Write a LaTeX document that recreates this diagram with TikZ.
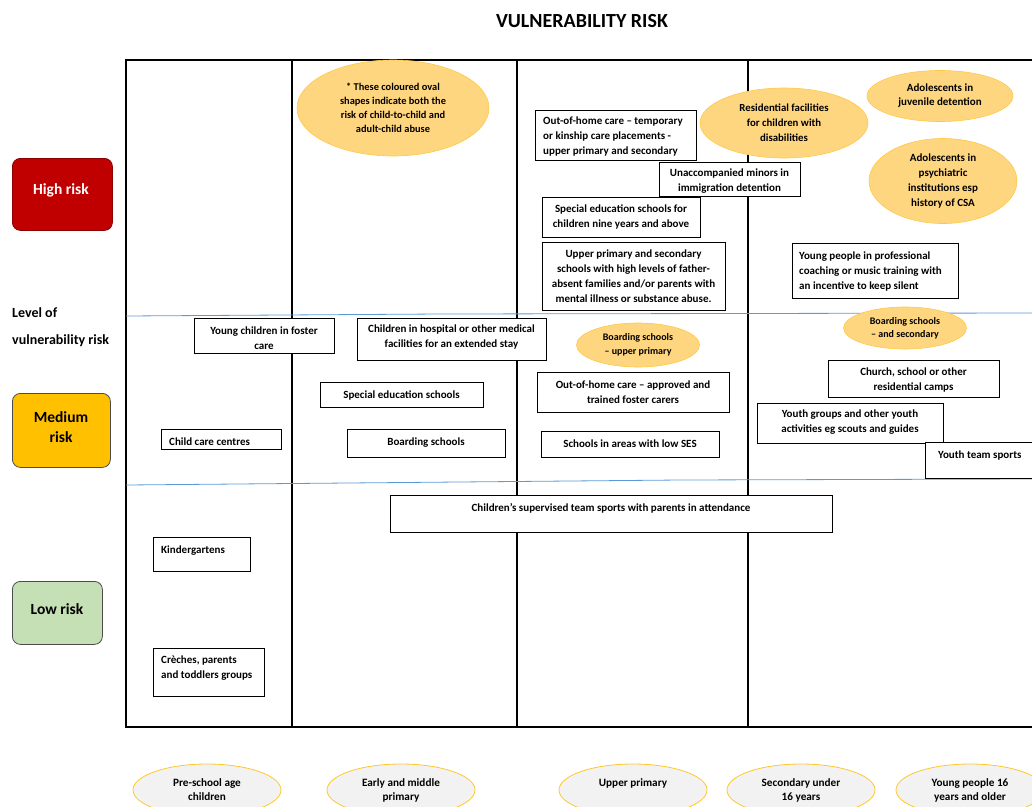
\documentclass[tikz,border=0pt]{standalone}
\usepackage{fontspec}
\setmainfont{Carlito}
\usetikzlibrary{shapes.geometric}
\definecolor{ovfill}{RGB}{255,214,128}
\definecolor{ovdraw}{RGB}{255,200,70}
\definecolor{agefill}{RGB}{242,242,242}
\definecolor{agedraw}{RGB}{255,200,40}
\definecolor{blueln}{RGB}{91,155,213}
\definecolor{hired}{RGB}{192,0,0}
\definecolor{hiredge}{RGB}{140,0,0}
\definecolor{medorange}{RGB}{255,192,0}
\definecolor{lowgreen}{RGB}{197,224,180}
\tikzset{
  every node/.style={font=\bfseries\fontsize{11}{15}\selectfont},
  frameline/.style={line width=1.5pt, black},
  bandline/.style={line width=0.8pt, blueln},
  boxst/.style={draw=black, fill=white, line width=0.9pt, rectangle, inner sep=0pt},
  txt/.style={inner sep=0pt, align=center, yshift=-1.5pt},
  ltxt/.style={inner sep=0pt, align=left, anchor=west, yshift=-1.5pt},
  riskoval/.style={ellipse, draw=ovdraw, fill=ovfill, line width=0.6pt, inner sep=0pt, align=center,
                   font=\bfseries\fontsize{10.4}{14}\selectfont},
  ageoval/.style={ellipse, draw=agedraw, fill=agefill, line width=0.8pt, inner sep=0pt, align=center,
                  minimum width=148, minimum height=52, font=\bfseries\fontsize{11.2}{14}\selectfont},
  levelbox/.style={rounded corners=8pt, line width=0.8pt, anchor=north west, inner sep=0pt},
}
\newcommand\rbox[5]{\node[boxst, anchor=north west, minimum width={(#4)-(#2)}, minimum height={(#5)-(#3)}] (#1) at (#2,#3) {};}
\begin{document}
\begin{tikzpicture}[x=1pt,y=-1pt]
\useasboundingbox (0,0) rectangle (1032,806);
\clip (0,0) rectangle (1032,806);

% title
\node[font=\bfseries\fontsize{20}{24}\selectfont] (title) at (582,21) {VULNERABILITY RISK};

% level boxes
\node[levelbox, fill=hired, draw=hiredge, minimum width=100, minimum height=72] (high) at (12,158) {};
\node[txt, text=white, font=\bfseries\fontsize{15.5}{18}\selectfont] (hight) at (61,189) {High risk};
\node[ltxt, font=\bfseries\fontsize{14}{27}\selectfont] (level) at (12,325.5) {Level of\\vulnerability risk};
\node[levelbox, fill=medorange, draw=black!70, minimum width=98, minimum height=74] (med) at (12,393) {};
\node[txt, font=\bfseries\fontsize{15.5}{20}\selectfont] (medt) at (61,426) {Medium\\risk};
\node[levelbox, fill=lowgreen, draw=black!70, minimum width=90, minimum height=63] (low) at (12,581) {};
\node[txt, font=\bfseries\fontsize{15.5}{18}\selectfont] (lowt) at (57,608) {Low risk};

% frame
\draw[frameline] (1040,60) -- (126,60) -- (126,727) -- (1040,727);
\draw[frameline] (292,60) -- (292,727);
\draw[frameline] (517,60) -- (517,727);
\draw[frameline] (748,60) -- (748,727);

% band lines
\draw[bandline] (126,316) -- (440,314) -- (1032,313);
\draw[bandline] (126,485) -- (680,480) -- (1032,479);

% risk ovals
\node[riskoval, minimum width=192, minimum height=96] (note) at (393,108)
  {* These coloured oval\\shapes indicate both the\\risk of child-to-child and\\adult-child abuse};
\node[riskoval, minimum width=168, minimum height=70, font=\bfseries\fontsize{10.8}{15}\selectfont] (resid) at (784,123)
  {Residential facilities\\for children with\\disabilities};
\node[riskoval, minimum width=146, minimum height=51, font=\bfseries\fontsize{11}{14}\selectfont] (juven) at (940,96)
  {Adolescents in\\juvenile detention};
\node[riskoval, minimum width=148, minimum height=85, font=\bfseries\fontsize{11}{15}\selectfont] (psych) at (943,181)
  {Adolescents in\\psychiatric\\institutions esp\\history of CSA};
\node[riskoval, minimum width=123, minimum height=44, font=\bfseries\fontsize{10}{14}\selectfont] (boardup) at (638,345)
  {Boarding schools\\-- upper primary};
\node[riskoval, minimum width=123, minimum height=42, font=\bfseries\fontsize{10}{13}\selectfont] (boardsec) at (905,328)
  {Boarding schools\\-- and secondary};

% boxes
\rbox{ooha}{535}{110}{696}{160}
\node[ltxt] (ooha-t) at (543,135) {Out-of-home care -- temporary\\or kinship care placements -\\upper primary and secondary};
\rbox{unacc}{659}{162}{800}{196}
\node[txt] (unacc-t) at (729.5,179.5) {Unaccompanied minors in\\immigration detention};
\rbox{spednine}{542}{197}{700}{237}
\node[txt] (spednine-t) at (621,215) {Special education schools for\\children nine years and above};
\rbox{upper}{542}{242}{725}{310}
\node[txt] (upper-t) at (633.5,275) {Upper primary and secondary\\schools with high levels of father-\\absent families and/or parents with\\mental illness or substance abuse.};
\rbox{prof}{792}{243}{958}{298}
\node[ltxt] (prof-t) at (799,270) {Young people in professional\\coaching or music training with\\an incentive to keep silent};
\rbox{foster}{194}{318}{334}{353}
\node[txt] (foster-t) at (264,336.5) {Young children in foster\\care};
\rbox{hosp}{357}{318}{546}{360}
\node[txt] (hosp-t) at (451.5,335.5) {Children in hospital or other medical\\facilities for an extended stay};
\rbox{sped}{320}{382}{483}{407}
\node[txt] (sped-t) at (401.5,394) {Special education schools};
\rbox{childcare}{161}{429}{281}{449}
\node[ltxt] (childcare-t) at (169,440) {Child care centres};
\rbox{boarding}{347}{429}{505}{457}
\node[txt] (boarding-t) at (426,441) {Boarding schools};
\rbox{oohb}{537}{372}{729}{412}
\node[txt] (oohb-t) at (633,390.5) {Out-of-home care -- approved and\\trained foster carers};
\rbox{ses}{541}{431}{719}{457}
\node[txt] (ses-t) at (630,442) {Schools in areas with low SES};
\rbox{church}{828}{360}{999}{397}
\node[txt] (church-t) at (913.5,378) {Church, school or other\\residential camps};
\rbox{youth}{757}{403}{943}{443}
\node[txt] (youth-t) at (850,421) {Youth groups and other youth\\activities eg scouts and guides};
\rbox{team}{925}{442}{1045}{478}
\node[ltxt] (team-t) at (938,454) {Youth team sports};
\rbox{sports}{390}{495}{832}{532}
\node[txt] (sports-t) at (611,507) {Children’s supervised team sports with parents in attendance};
\rbox{kinder}{153}{537}{250}{571}
\node[ltxt] (kinder-t) at (161,549) {Kindergartens};
\rbox{creche}{153}{648}{264}{696}
\node[ltxt] (creche-t) at (161,666.5) {Crèches, parents\\and toddlers groups};

% age ovals
\node[ageoval] (preschool) at (207,790) {Pre-school age\\children};
\node[ageoval] (early) at (401,790) {Early and middle\\primary};
\node[ageoval] (upperp) at (633,790) {Upper primary\\\phantom{x}};
\node[ageoval] (second) at (801,790) {Secondary under\\16 years};
\node[ageoval] (young) at (970,790) {Young people 16\\years and older};
\end{tikzpicture}
\end{document}
